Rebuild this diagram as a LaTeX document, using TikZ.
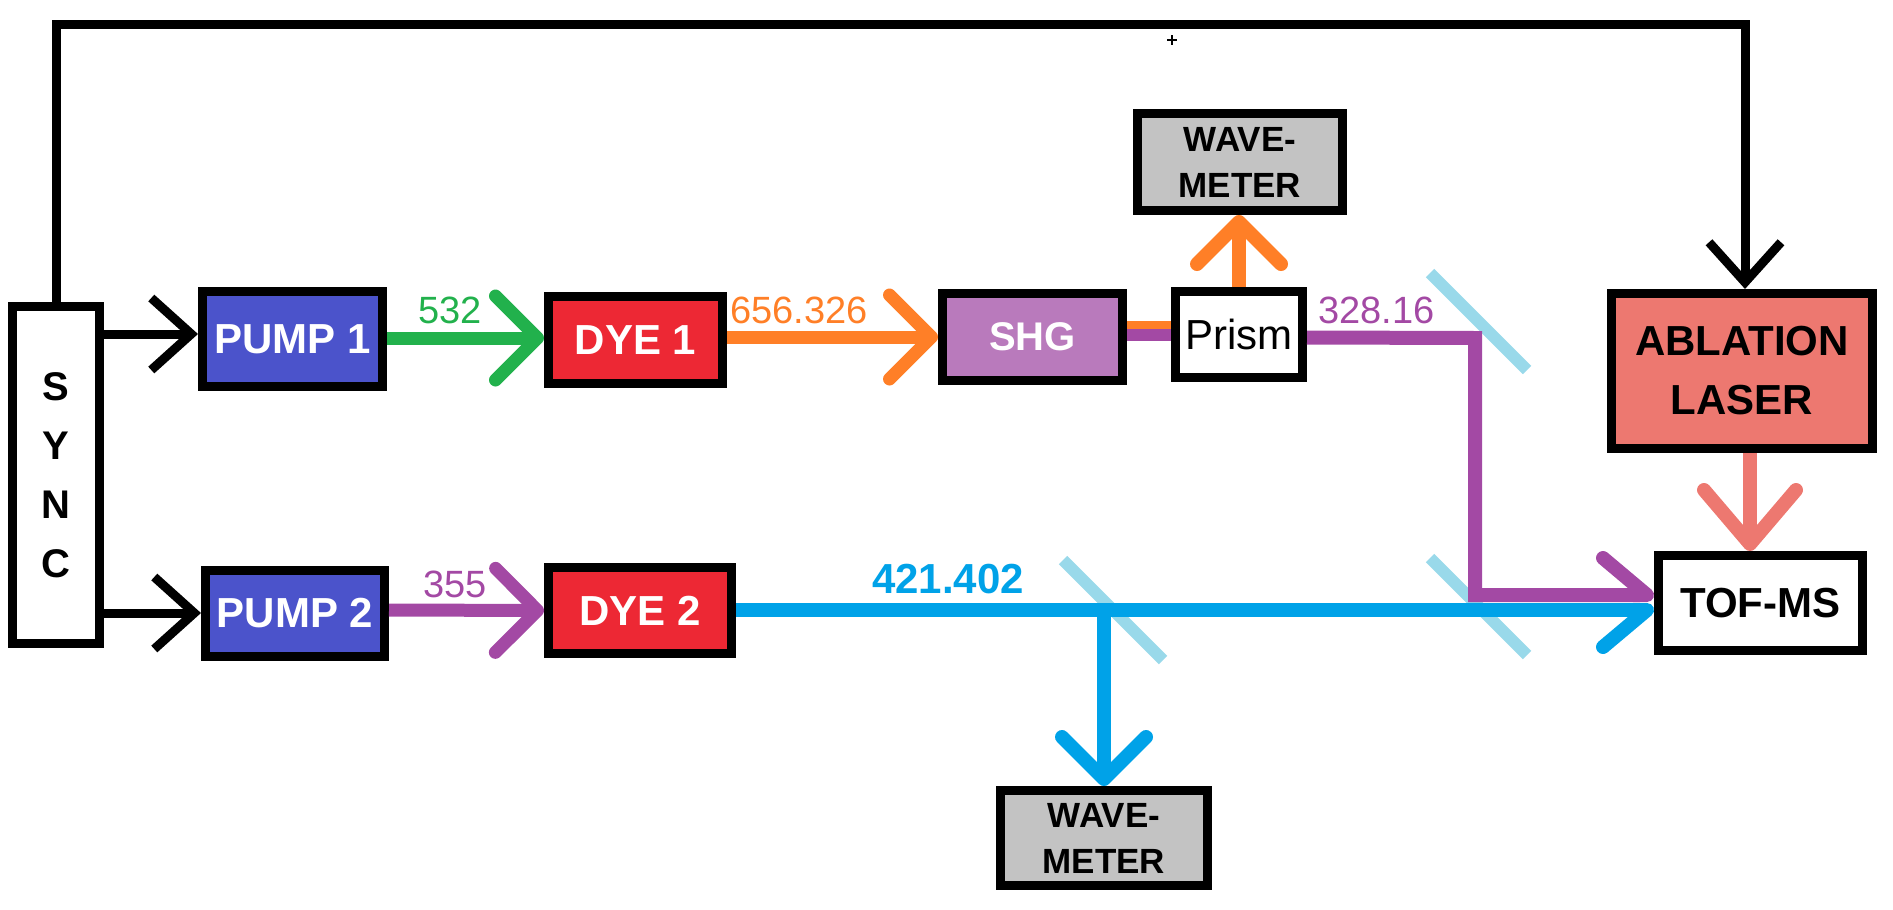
\documentclass[tikz,border=0pt]{standalone}
\usepackage{fontspec}
\setmainfont{Liberation Sans}
\usetikzlibrary{arrows.meta,calc}
\definecolor{pumpblue}{RGB}{75,83,203}
\definecolor{dyered}{RGB}{237,40,52}
\definecolor{shgpurple}{RGB}{185,122,188}
\definecolor{ablsalmon}{RGB}{237,120,112}
\definecolor{wmgray}{RGB}{195,195,195}
\definecolor{bgreen}{RGB}{34,177,76}
\definecolor{borange}{RGB}{255,127,39}
\definecolor{bpurple}{RGB}{163,73,164}
\definecolor{bblue}{RGB}{0,162,232}
\definecolor{mirrorblue}{RGB}{153,217,234}
\newcommand\fsz[2]{\fontsize{#1}{#2}\selectfont}
\tikzset{
  box/.style={draw=black, line width=9pt, inner sep=0pt, align=center},
  lbl/.style={anchor=base west, inner sep=0pt, font=\fsz{38}{44}},
  blk/.style={draw=black, line width=9pt, line join=miter, -{Straight Barb[length=40pt,width=72pt]}},
  beam/.style={line width=13pt, -{Straight Barb[round,length=42pt,width=84pt]}},
  mirror/.style={draw=mirrorblue, line width=12pt},
}
\begin{document}
\begin{tikzpicture}[x=1pt,y=-1pt]
\useasboundingbox (0,0) rectangle (1893,910);
% boxes
\node[box, minimum width=87pt, minimum height=337pt, font=\bfseries\fsz{40}{59}] (sync) at (56,475) {S\\Y\\N\\C};
\node[box, fill=pumpblue, text=white, minimum width=180pt, minimum height=95pt, font=\bfseries\fsz{42}{50}] (pump1) at (292.5,339) {PUMP 1};
\node[box, fill=pumpblue, text=white, minimum width=179pt, minimum height=86pt, font=\bfseries\fsz{42}{50}] (pump2) at (295,613.5) {PUMP 2};
\node[box, fill=dyered, text=white, minimum width=174pt, minimum height=87pt, font=\bfseries\fsz{42}{50}] (dye1) at (635.5,340) {DYE 1};
\node[box, fill=dyered, text=white, minimum width=183pt, minimum height=86pt, font=\bfseries\fsz{42}{50}] (dye2) at (640,610.5) {DYE 2};
\node[box, fill=shgpurple, text=white, minimum width=180pt, minimum height=87pt, font=\bfseries\fsz{40}{50}] (shg) at (1032.5,337) {SHG};
\node[box, fill=white, minimum width=127pt, minimum height=86pt, font=\fsz{42}{50}] (prism) at (1239,334.5) {Prism};
\node[box, fill=wmgray, minimum width=205pt, minimum height=97pt, font=\bfseries\fsz{35}{46}] (wm1) at (1240,162) {WAVE-\\METER};
\node[box, fill=wmgray, minimum width=207pt, minimum height=95pt, font=\bfseries\fsz{35}{46}] (wm2) at (1104,838) {WAVE-\\METER};
\node[box, fill=ablsalmon, minimum width=261pt, minimum height=155pt, font=\bfseries\fsz{42}{59}] (abl) at (1742,371) {ABLATION\\LASER};
\node[box, fill=white, minimum width=204pt, minimum height=95pt, font=\bfseries\fsz{42}{50}] (tof) at (1760.5,603) {TOF-MS};
% mirrors
\draw[mirror] (1430,273) -- (1527,370);
\draw[mirror] (1430,558) -- (1527,655);
\draw[mirror] (1063,560) -- (1163,660);
% sync lines
\coordinate (tc) at (1745,24);
\draw[blk] (sync.north) |- (tc) -- (tc |- abl.north);
\coordinate (p1a) at ($(pump1.west)+(0,-5)$);
\coordinate (p2a) at ($(pump2.west)+(0,-0.5)$);
\draw[blk] (sync.east |- p1a) -- (p1a);
\draw[blk] (sync.east |- p2a) -- (p2a);
% beams
\draw[beam, bgreen] ($(pump1.east)+(0,-1)$) -- ($(dye1.west)+(0,-2)$);
\draw[beam, borange] (dye1.east |- shg.west) -- (shg.west);
\draw[beam, bpurple] ($(pump2.east)+(0,-3.5)$) -- (dye2.west);
\draw[borange, line width=8pt] ($(shg.east)+(0,-12)$) -- ($(prism.west)+(0,-9.5)$);
\draw[bpurple, line width=12pt] ($(shg.east)+(0,-2)$) -- ($(prism.west)+(0,0.5)$);
\draw[beam, borange, line width=14pt] (prism.north) -- (prism.north |- wm1.south);
% blue beam
\coordinate (bs) at (1104,610);
\draw[bblue, line width=14pt, -{Straight Barb[round,harpoon,swap,length=44pt,width=74pt]}] (dye2.east |- bs) -- (tof.west |- bs);
\draw[beam, bblue, line width=14pt] (bs) -- (wm2.north);
% purple 328.16 beam
\coordinate (pa) at ($(prism.east)+(0,3)$);
\coordinate (pc1) at (1475,338);
\coordinate (pc2) at (1475,595);
\draw[bpurple, line width=14pt, line join=miter, -{Straight Barb[round,harpoon,length=44pt,width=74pt]}] (pa) -- (pc1) -- (pc2) -- (tof.west |- pc2);
% ablation beam
\coordinate (sx) at (1750,0);
\draw[ablsalmon, line width=14pt, -{Straight Barb[round,length=54pt,width=92pt]}] (abl.south -| sx) -- (tof.north -| sx);
% labels
\node[lbl, text=bgreen] (l532) at (418,323) {532};
\node[lbl, text=borange] (l656) at (730,323) {656.326};
\node[lbl, text=bpurple] (l355) at (423,597) {355};
\node[lbl, text=bpurple] (l328) at (1318,323) {328.16};
\node[lbl, text=bblue, font=\bfseries\fsz{42}{50}] (l421) at (872,593) {421.402};
% stray mark
\draw[line width=2.5pt] (1167,40) -- (1177,40) (1172,35) -- (1172,45);
\end{tikzpicture}
\end{document}
